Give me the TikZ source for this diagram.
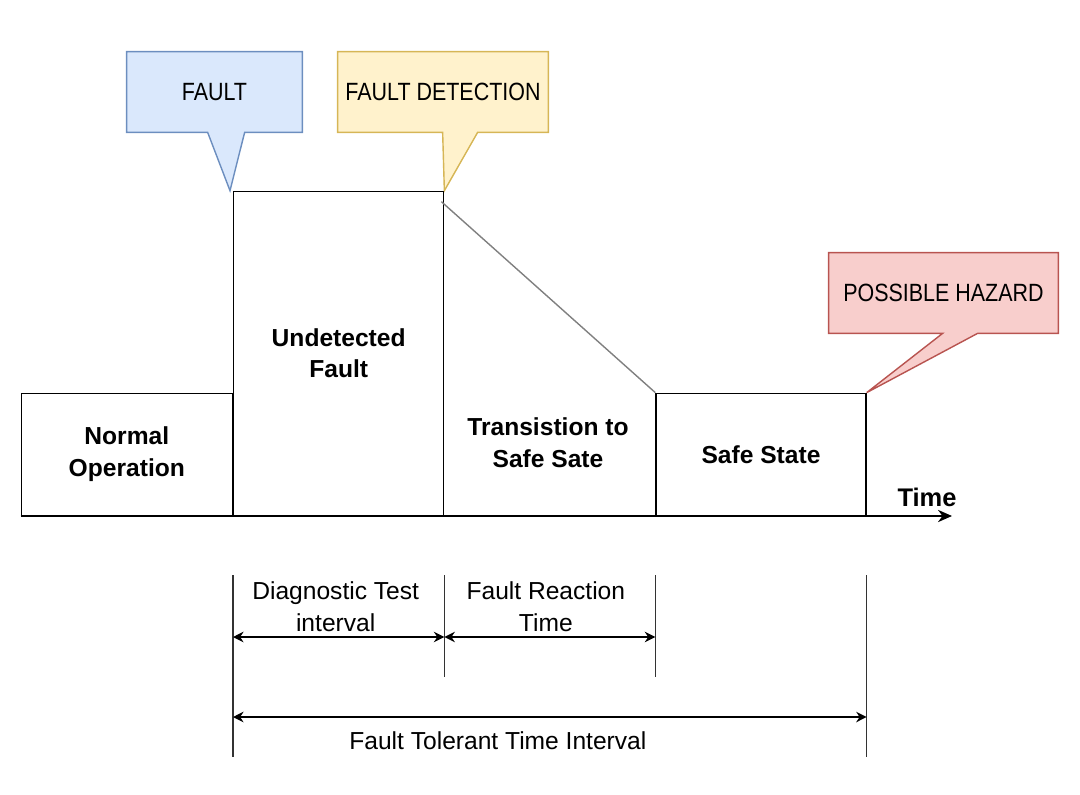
\documentclass[tikz,border=0pt]{standalone}
\usepackage{fontspec}
\setmainfont{Liberation Sans}
\newfontfamily\calloutfont{Liberation Sans}[FakeStretch=0.86]
\usetikzlibrary{arrows.meta,positioning,backgrounds}
\definecolor{faultfill}{HTML}{DAE8FC}
\definecolor{faultline}{HTML}{6C8EBF}
\definecolor{detectfill}{HTML}{FFF2CC}
\definecolor{detectline}{HTML}{D6B656}
\definecolor{hazardfill}{HTML}{F8CECC}
\definecolor{hazardline}{HTML}{B85450}
\tikzset{
  state box/.style={draw=black, line width=0.8pt, align=center, inner sep=0pt,
    font=\fontsize{14}{18}\selectfont\bfseries},
  callout text/.style={minimum height=1.6cm, inner sep=0pt,
    font=\fontsize{14.2}{18}\calloutfont},
  callout shape/.style={line width=0.8pt},
  dim label/.style={align=center, inner sep=0pt, font=\fontsize{14}{18}\selectfont},
  span/.style={{Stealth[length=6pt,width=6pt]}-{Stealth[length=6pt,width=6pt]}, line width=0.8pt},
  tick line/.style={draw=black!80, line width=0.7pt}
}

\begin{document}
\begin{tikzpicture}[x=0.02cm, y=-0.02cm]
  \useasboundingbox (0,0) rectangle (1080,795);

  % states on the time line
  \node[state box, minimum width=4.2cm, minimum height=6.48cm, anchor=south west] (undet) at (233,516) {Undetected\\Fault};
  \node[state box, minimum width=4.22cm, minimum height=2.44cm, anchor=south east] (normal) at (undet.south west) {Normal\\Operation};
  \node[state box, minimum width=4.2cm, minimum height=2.44cm, right=4.22cm of undet.south east, anchor=south west] (safe) {Safe State};
  \node[state box, draw=none] (trans) at (548,443) {Transistion to\\Safe Sate};

  \draw[gray, line width=0.8pt] ([xshift=-0.06cm, yshift=-0.22cm]undet.north east) -- (safe.north west);
  \draw[line width=0.8pt] (undet.south east) -- (safe.south west);

  % time axis
  \coordinate (tend) at (952,516);
  \draw[-{Stealth[length=8pt,width=7pt]}, line width=0.8pt] (normal.south west) -- (tend);
  \node[inner sep=0pt, font=\fontsize{14.5}{18}\selectfont\bfseries] (time) at (927,497) {Time};

  % callouts
  \node[callout text, minimum width=3.5cm] (fault) at (214.5,92) {FAULT};
  \node[callout text, minimum width=4.2cm] (detect) at (443,92) {FAULT DETECTION};
  \node[callout text, minimum width=4.58cm] (hazard) at (943.5,293) {POSSIBLE HAZARD};
  \begin{scope}[on background layer]
    \filldraw[callout shape, fill=faultfill, draw=faultline] (fault.north west) -- (fault.north east) -- (fault.south east)
      -- ([xshift=2.36cm]fault.south west) -- ([xshift=-0.06cm]undet.north west) -- ([xshift=1.62cm]fault.south west)
      -- (fault.south west) -- cycle;
    \filldraw[callout shape, fill=detectfill, draw=detectline] (detect.north west) -- (detect.north east) -- (detect.south east)
      -- ([xshift=2.8cm]detect.south west) -- (undet.north east) -- ([xshift=2.1cm]detect.south west)
      -- (detect.south west) -- cycle;
    \filldraw[callout shape, fill=hazardfill, draw=hazardline] (hazard.north west) -- (hazard.north east) -- (hazard.south east)
      -- ([xshift=2.98cm]hazard.south west) -- (safe.north east) -- ([xshift=2.28cm]hazard.south west)
      -- (hazard.south west) -- cycle;
  \end{scope}

  % intervals
  \foreach \n/\bot in {undet.south west/757, undet.south east/677, safe.south west/677, safe.south east/757}
    \draw[tick line] (\n |- 0,575) -- (\n |- 0,\bot);

  \draw[span] (undet.south west |- 0,637) -- node[dim label, above=0.1cm, xshift=-0.06cm] (dti) {Diagnostic Test\\interval} (undet.south east |- 0,637);
  \draw[span] (undet.south east |- 0,637) -- node[dim label, above=0.1cm, xshift=-0.08cm] (frt) {Fault Reaction\\Time} (safe.south west |- 0,637);
  \draw[span] (undet.south west |- 0,717) -- node[dim label, below=0.28cm, xshift=-1.04cm] (ftti) {Fault Tolerant Time Interval} (safe.south east |- 0,717);

\end{tikzpicture}
\end{document}
